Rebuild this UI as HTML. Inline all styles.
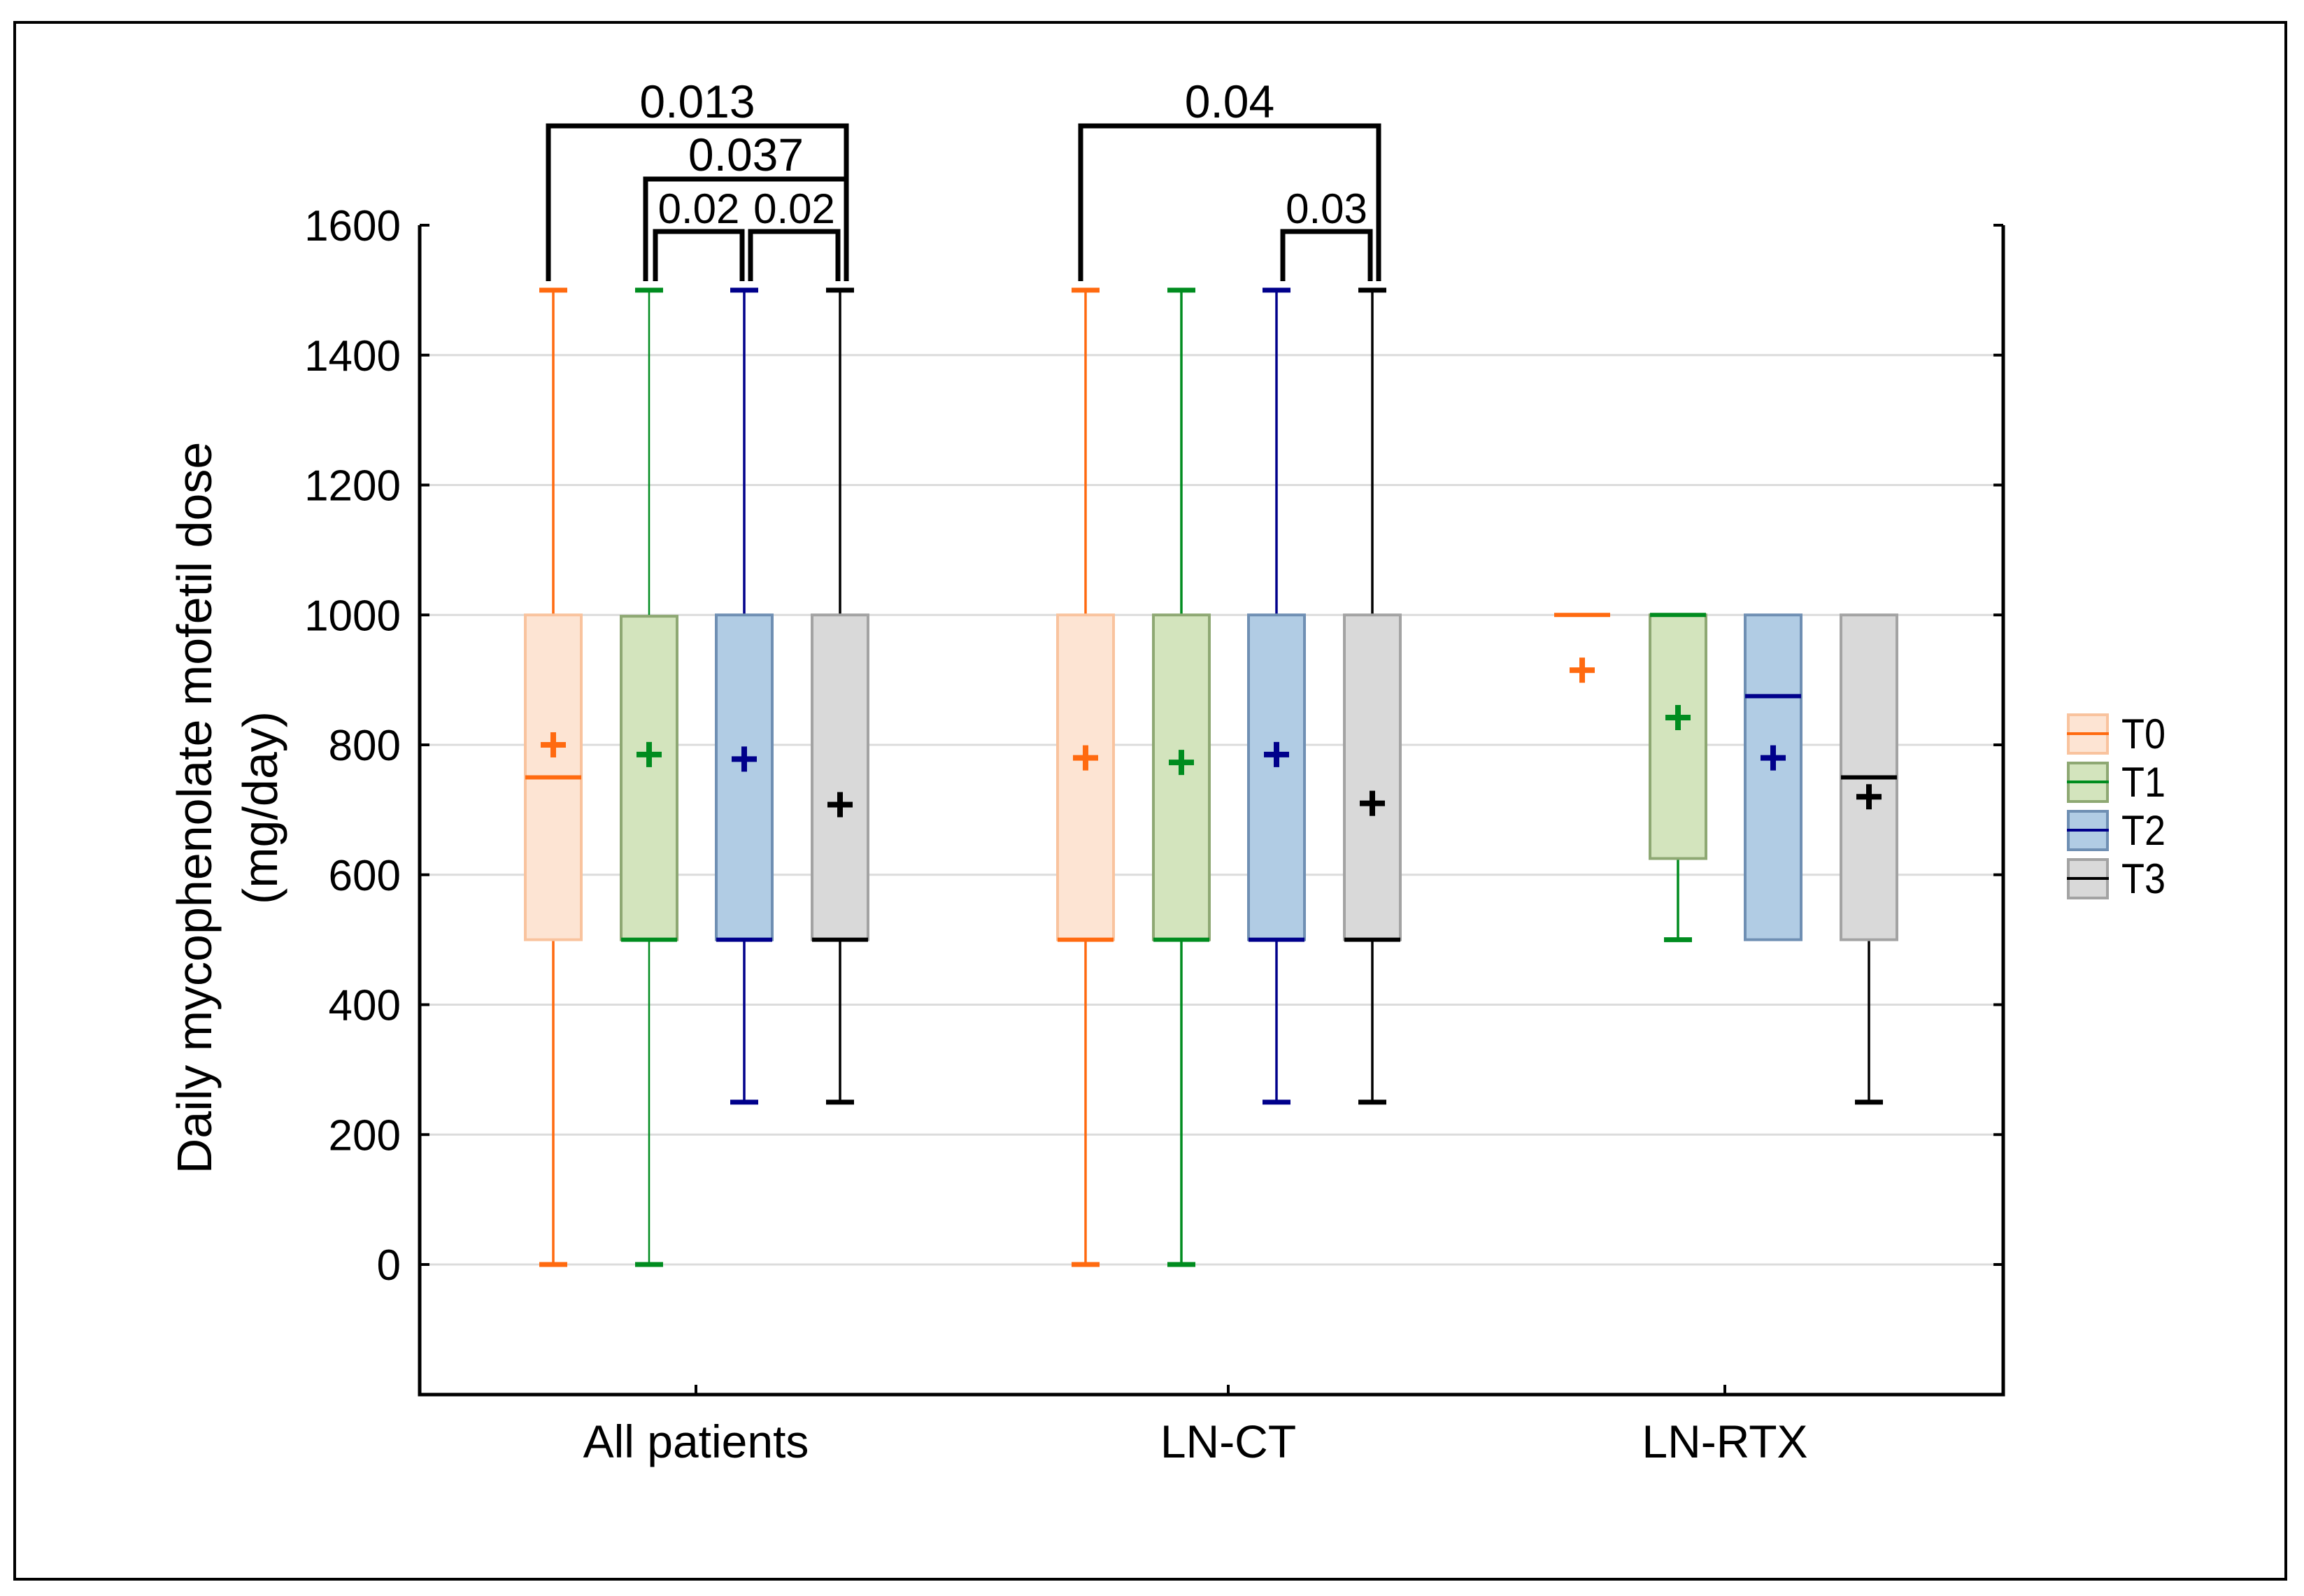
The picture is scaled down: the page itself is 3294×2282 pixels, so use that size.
<!DOCTYPE html>
<html><head><meta charset="utf-8"><style>
html,body{margin:0;padding:0;background:#fff;}
svg{display:block;font-family:"Liberation Sans",sans-serif;}
</style></head><body>
<svg id="chart" width="3294" height="2282" viewBox="0 0 3294 2282" xmlns="http://www.w3.org/2000/svg">
<rect x="0" y="0" width="3294" height="2282" fill="#fff"/>
<rect x="21" y="32" width="3247" height="2226" fill="none" stroke="#000" stroke-width="4"/>
<g id="grid"></g>
<g id="axes"></g>
<g id="boxes"></g>
<g id="brackets"></g>
<text x="0" y="0" transform="translate(302,1155) rotate(-90)" text-anchor="middle" font-size="70">Daily mycophenolate mofetil dose</text>
<text x="0" y="0" transform="translate(396,1155) rotate(-90)" text-anchor="middle" font-size="70">(mg/day)</text>
<g id="legend"></g>
</svg>
<script>
const categories = ["All patients", "LN-CT", "LN-RTX"];
const series = ["T0", "T1", "T2", "T3"];
// per category, per series
const mins    = [[0,0,250,250],[0,0,250,250],[1000,500,500,250]];
const q1s     = [[500,500,500,500],[500,500,500,500],[1000,625,500,500]];
const medians = [[750,500,500,500],[500,500,500,500],[1000,1000,875,750]];
const q3s     = [[1000,998,1000,1000],[1000,1000,1000,1000],[1000,1000,1000,1000]];
const maxs    = [[1500,1500,1500,1500],[1500,1500,1500,1500],[1000,1000,1000,1000]];
const means   = [[800,785,778,708],[780,773,785,710],[915,842,780,720]];
const yTicks  = [0,200,400,600,800,1000,1200,1400,1600];
const brackets = [
  {cat:0,a:0,b:3,level:0,label:"0.013"},
  {cat:0,a:1,b:3,level:1,label:"0.037"},
  {cat:0,a:1,b:2,level:2,label:"0.02"},
  {cat:0,a:2,b:3,level:2,label:"0.02"},
  {cat:1,a:0,b:3,level:0,label:"0.04"},
  {cat:1,a:2,b:3,level:2,label:"0.03"}
];

const NS="http://www.w3.org/2000/svg";
const L=600,R=2864,T=322,B=1994;
const y0=1808, k=0.92875;
function yS(v){return y0-v*k;}
const catCenters=[995,1756,2466];
const offsets=[-204,-67,69,206];
function xS(c,s){return catCenters[c]+offsets[s];}
const fills=["#fde4d3","#d3e4bd","#b1cce4","#d9d9d9"];
const borders=["#f9c39e","#8ea873","#6f8fb3","#a3a3a3"];
const lines=["#ff6a10","#008c1f","#00008b","#000000"];
function mk(tag,attrs,parent){const e=document.createElementNS(NS,tag);for(const a in attrs)e.setAttribute(a,attrs[a]);parent.appendChild(e);return e;}
const grid=document.getElementById('grid'),axes=document.getElementById('axes'),boxes=document.getElementById('boxes'),br=document.getElementById('brackets'),leg=document.getElementById('legend');

yTicks.forEach(v=>{
  if(v<1600){const g=mk('line',{x1:L,x2:R,y1:yS(v),y2:yS(v),stroke:'#dcdcdc','stroke-width':3},grid);
  
  }
  const t1=mk('line',{x1:L,x2:L+14,y1:yS(v),y2:yS(v),stroke:'#000','stroke-width':4},axes);
  
  
  const t2=mk('line',{x1:R-14,x2:R,y1:yS(v),y2:yS(v),stroke:'#000','stroke-width':4},axes);
  
  
  const lb=mk('text',{x:573,y:yS(v)+22,'text-anchor':'end','font-size':62},axes);
  lb.textContent=v;
  
  
});
const ax=mk('path',{d:`M${L},${T} L${L},${B} L${R},${B} L${R},${T}`,fill:'none',stroke:'#000','stroke-width':5},axes);


categories.forEach((c,i)=>{
  const t=mk('line',{x1:catCenters[i],x2:catCenters[i],y1:B,y2:B-14,stroke:'#000','stroke-width':4},axes);
  
  
  const lb=mk('text',{x:catCenters[i],y:2084,'text-anchor':'middle','font-size':66},axes);
  lb.textContent=c;
  
  
});

const bw=80, cw=40;
categories.forEach((c,ci)=>{
  series.forEach((s,si)=>{
    const x=xS(ci,si), g=mk('g',{},boxes);
    
    
    const col=lines[si], thin=si===1&&ci===0?2.5:3.5;
    if(maxs[ci][si]>q3s[ci][si]){
      mk('line',{x1:x,x2:x,y1:yS(q3s[ci][si]),y2:yS(maxs[ci][si]),stroke:col,'stroke-width':thin},g);
      mk('line',{x1:x-cw/2,x2:x+cw/2,y1:yS(maxs[ci][si]),y2:yS(maxs[ci][si]),stroke:col,'stroke-width':7},g);
    }
    if(mins[ci][si]<q1s[ci][si]){
      mk('line',{x1:x,x2:x,y1:yS(q1s[ci][si]),y2:yS(mins[ci][si]),stroke:col,'stroke-width':thin},g);
      mk('line',{x1:x-cw/2,x2:x+cw/2,y1:yS(mins[ci][si]),y2:yS(mins[ci][si]),stroke:col,'stroke-width':7},g);
    }
    const h=yS(q1s[ci][si])-yS(q3s[ci][si]);
    if(h>1) mk('rect',{x:x-bw/2,y:yS(q3s[ci][si]),width:bw,height:h,fill:fills[si],stroke:borders[si],'stroke-width':4},g);
    mk('line',{x1:x-bw/2,x2:x+bw/2,y1:yS(medians[ci][si]),y2:yS(medians[ci][si]),stroke:col,'stroke-width':6},g);
    const my=yS(means[ci][si]);
    mk('path',{d:`M${x-18},${my} L${x+18},${my} M${x},${my-18} L${x},${my+18}`,stroke:col,'stroke-width':8,fill:'none'},g);
  });
});

const levelY=[180,256,331], legBot=402;
brackets.forEach((b,i)=>{
  let xa=xS(b.cat,b.a), xb=xS(b.cat,b.b);
  if(b.level===0){xa-=7;xb+=9;}
  else if(b.level===1){xa-=5;xb+=9;}
  else {xa+=9;xb-=3;}
  const y=levelY[b.level];
  const p=mk('path',{d:`M${xa},${legBot} L${xa},${y} L${xb},${y} L${xb},${legBot}`,fill:'none',stroke:'#000','stroke-width':7},br);
  
  
  const cx=(xa+xb)/2;
  const fs=b.level===2?60:66;
  const t=mk('text',{x:cx,y:y-12,'text-anchor':'middle','font-size':fs},br);
  t.textContent=b.label;
  
  
});

series.forEach((s,si)=>{
  const y=1022+si*69;
  const g=mk('g',{},leg);
  
  
  mk('rect',{x:2957,y:y,width:56,height:55,fill:fills[si],stroke:borders[si],'stroke-width':4},g);
  mk('line',{x1:2955,x2:3015,y1:y+27,y2:y+27,stroke:lines[si],'stroke-width':4},g);
  const t=mk('text',{x:3033,y:y+48,'font-size':60,transform:`translate(${3033*0.1},0) scale(0.9,1)`},g);
  t.textContent=s;
});
</script>
</body></html>
